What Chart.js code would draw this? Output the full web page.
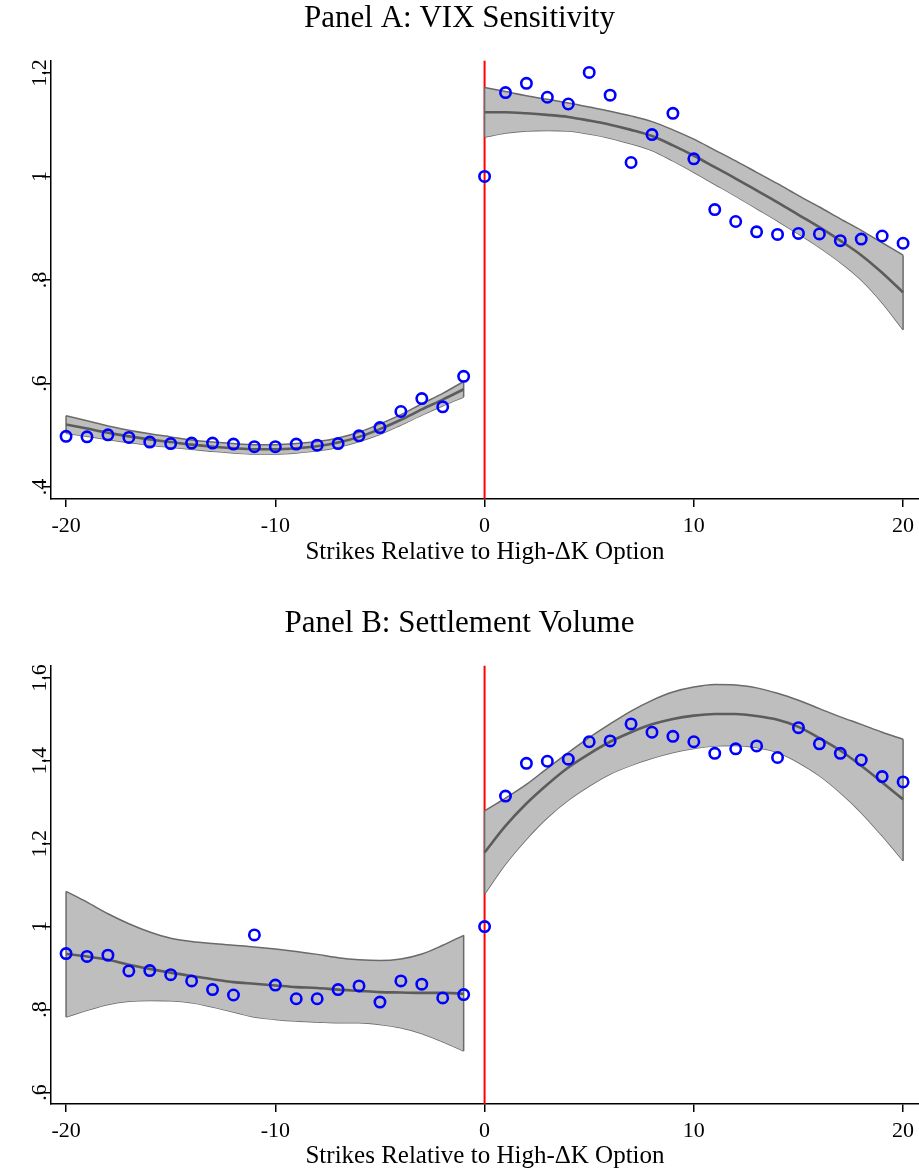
<!DOCTYPE html>
<html>
<head>
<meta charset="utf-8">
<script src="https://cdn.jsdelivr.net/npm/chart.js@4.4.0/dist/chart.umd.min.js"></script>
<style>
    html, body { margin: 0; padding: 0; background: #ffffff; }
    canvas { display: block; }
</style>
</head>
<body>
<canvas id="vixChart" width="919" height="585"></canvas>
<canvas id="volumeChart" width="919" height="586"></canvas>
<script>
// strikes relative to the high-dK option
const strikes = [-20, -19, -18, -17, -16, -15, -14, -13, -12, -11, -10, -9, -8, -7, -6, -5, -4, -3, -2, -1,
    0, 1, 2, 3, 4, 5, 6, 7, 8, 9, 10, 11, 12, 13, 14, 15, 16, 17, 18, 19, 20];
const fitLeftX = [-20, -19, -18, -17, -16, -15, -14, -13, -12, -11, -10, -9, -8, -7, -6, -5, -4, -3, -2, -1];
const fitRightX = [0, 1, 2, 3, 4, 5, 6, 7, 8, 9, 10, 11, 12, 13, 14, 15, 16, 17, 18, 19, 20];
const xTicks = [-20, -10, 0, 10, 20];

// Panel A: VIX sensitivity
const vixPoints = [0.498, 0.497, 0.501, 0.496, 0.487, 0.484, 0.485, 0.485, 0.483, 0.478, 0.478, 0.483, 0.481, 0.484, 0.499, 0.515, 0.546, 0.571, 0.555, 0.614,
    1.0, 1.162, 1.180, 1.153, 1.140, 1.201, 1.157, 1.027, 1.081, 1.122, 1.034, 0.936, 0.913, 0.893, 0.888, 0.890, 0.889, 0.876, 0.879, 0.885, 0.871];
const vixFitLeft = [0.521, 0.513, 0.505, 0.498, 0.492, 0.487, 0.482, 0.478, 0.475, 0.473, 0.473, 0.475, 0.479, 0.486, 0.497, 0.512, 0.530, 0.550, 0.569, 0.589];
const vixUpperLeft = [0.538, 0.528, 0.518, 0.510, 0.503, 0.497, 0.491, 0.487, 0.484, 0.482, 0.482, 0.484, 0.488, 0.495, 0.506, 0.522, 0.540, 0.561, 0.581, 0.604];
const vixLowerLeft = [0.504, 0.498, 0.492, 0.486, 0.481, 0.477, 0.473, 0.469, 0.466, 0.464, 0.464, 0.466, 0.470, 0.477, 0.488, 0.502, 0.520, 0.539, 0.557, 0.574];
const vixFitRight = [1.124, 1.124, 1.122, 1.119, 1.115, 1.108, 1.100, 1.090, 1.078, 1.060, 1.040, 1.018, 0.996, 0.973, 0.950, 0.926, 0.902, 0.876, 0.848, 0.814, 0.776];
const vixUpperRight = [1.172, 1.164, 1.156, 1.149, 1.142, 1.134, 1.126, 1.117, 1.106, 1.090, 1.072, 1.051, 1.030, 1.008, 0.986, 0.963, 0.941, 0.918, 0.896, 0.872, 0.848];
const vixLowerRight = [1.076, 1.084, 1.088, 1.089, 1.088, 1.082, 1.074, 1.063, 1.050, 1.030, 1.008, 0.985, 0.962, 0.938, 0.914, 0.889, 0.863, 0.834, 0.800, 0.756, 0.704];
const vixTicks = [0.4, 0.6, 0.8, 1, 1.2];
const vixTickLabels = [".4", ".6", ".8", "1", "1.2"];

// Panel B: settlement volume
const volumePoints = [0.935, 0.928, 0.931, 0.893, 0.894, 0.884, 0.869, 0.848, 0.835, 0.980, 0.859, 0.826, 0.826, 0.848, 0.857, 0.818, 0.869, 0.861, 0.828, 0.836,
    1.0, 1.315, 1.394, 1.399, 1.404, 1.446, 1.448, 1.489, 1.469, 1.459, 1.446, 1.418, 1.429, 1.436, 1.408, 1.480, 1.441, 1.418, 1.402, 1.362, 1.349];
const volFitLeft = [0.934, 0.928, 0.920, 0.908, 0.898, 0.889, 0.881, 0.873, 0.866, 0.862, 0.858, 0.854, 0.852, 0.848, 0.845, 0.842, 0.841, 0.840, 0.840, 0.838];
const volUpperLeft = [1.085, 1.059, 1.031, 1.007, 0.987, 0.972, 0.964, 0.959, 0.955, 0.951, 0.946, 0.940, 0.933, 0.925, 0.920, 0.918, 0.922, 0.934, 0.955, 0.979];
const volLowerLeft = [0.782, 0.798, 0.812, 0.820, 0.822, 0.821, 0.816, 0.806, 0.794, 0.782, 0.776, 0.772, 0.770, 0.768, 0.768, 0.764, 0.756, 0.742, 0.722, 0.700];
const volFitRight = [1.179, 1.243, 1.297, 1.343, 1.384, 1.417, 1.446, 1.469, 1.488, 1.501, 1.509, 1.513, 1.513, 1.508, 1.499, 1.482, 1.455, 1.425, 1.388, 1.348, 1.307];
const volUpperRight = [1.279, 1.310, 1.343, 1.382, 1.420, 1.456, 1.489, 1.520, 1.546, 1.566, 1.578, 1.584, 1.583, 1.576, 1.563, 1.546, 1.526, 1.506, 1.488, 1.469, 1.452];
const volLowerRight = [1.079, 1.151, 1.211, 1.263, 1.305, 1.339, 1.368, 1.389, 1.406, 1.420, 1.430, 1.436, 1.437, 1.432, 1.420, 1.396, 1.364, 1.323, 1.275, 1.219, 1.159];
const volTicks = [0.6, 0.8, 1, 1.2, 1.4, 1.6];
const volTickLabels = [".6", ".8", "1", "1.2", "1.4", "1.6"];

const FONT = "'Liberation Serif', 'Times New Roman', serif";
const BAND_FILL = "#bebebe";
const BAND_EDGE = "#6a6a6a";
const FIT_LINE = "#5c5c5c";

Chart.defaults.font.family = FONT;
Chart.defaults.color = "#000000";

document.addEventListener("DOMContentLoaded", function () {
    setVixChart();
    setVolumeChart();
});

// rotated y tick labels (Stata style, reading bottom to top)
const rotatedYLabels = {
    id: "rotatedYLabels",
    afterDraw(chart, args, opts) {
        const ctx = chart.ctx;
        const scale = chart.scales.y;

        ctx.save();
        ctx.font = `22px ${FONT}`;
        ctx.fillStyle = "#000000";
        ctx.textAlign = "center";
        ctx.textBaseline = "middle";
        opts.values.forEach((v, i) => {
            const y = scale.getPixelForValue(v);
            ctx.save();
            ctx.translate(opts.x, y);
            ctx.rotate(-Math.PI / 2);
            ctx.fillText(opts.labels[i], 0, 0);
            ctx.restore();
        });
        ctx.restore();
    },
};

function toPoints(xs, ys) {
    return xs.map((x, i) => ({ x: x, y: ys[i] }));
}

function bandDatasets(xs, upper, lower, fit) {
    const last = xs.length - 1;
    return [
        {
            type: "line",
            data: toPoints(xs, upper),
            borderColor: BAND_EDGE,
            borderWidth: 1.5,
            backgroundColor: BAND_FILL,
            fill: "+1",
            pointRadius: 0,
            cubicInterpolationMode: "monotone",
            order: 3,
        },
        {
            type: "line",
            data: toPoints(xs, lower),
            borderColor: BAND_EDGE,
            borderWidth: 1.5,
            fill: false,
            pointRadius: 0,
            cubicInterpolationMode: "monotone",
            order: 3,
        },
        {
            type: "line",
            data: [{ x: xs[0], y: lower[0] }, { x: xs[0], y: upper[0] }],
            borderColor: BAND_EDGE,
            borderWidth: 1.5,
            fill: false,
            pointRadius: 0,
            order: 2,
        },
        {
            type: "line",
            data: [{ x: xs[last], y: lower[last] }, { x: xs[last], y: upper[last] }],
            borderColor: BAND_EDGE,
            borderWidth: 1.5,
            fill: false,
            pointRadius: 0,
            order: 2,
        },
        {
            type: "line",
            data: toPoints(xs, fit),
            borderColor: FIT_LINE,
            borderWidth: 2.6,
            fill: false,
            pointRadius: 0,
            cubicInterpolationMode: "monotone",
            order: 1,
        },
    ];
}

function setPanel(canvasId, p) {
    const ctx = document.getElementById(canvasId).getContext("2d");

    const datasets = [
        {
            type: "line",
            data: [{ x: 0, y: p.yMin }, { x: 0, y: p.yMax }],
            borderColor: "#ff0000",
            borderWidth: 2,
            pointRadius: 0,
            fill: false,
            order: 5,
        },
        ...bandDatasets(fitLeftX, p.upperLeft, p.lowerLeft, p.fitLeft),
        ...bandDatasets(fitRightX, p.upperRight, p.lowerRight, p.fitRight),
        {
            type: "scatter",
            data: toPoints(strikes, p.points),
            borderColor: "#0000ff",
            backgroundColor: "rgba(0, 0, 0, 0)",
            borderWidth: 2.6,
            pointRadius: 5.2,
            pointStyle: "circle",
            order: 0,
        },
    ];

    new Chart(ctx, {
        type: "scatter",
        data: { datasets: datasets },
        plugins: [rotatedYLabels],
        options: {
            responsive: false,
            animation: false,
            layout: { autoPadding: false, padding: { left: 0, right: 0, top: p.padTop, bottom: 0 } },
            plugins: {
                legend: { display: false },
                tooltip: { enabled: false },
                title: {
                    display: true,
                    text: p.title,
                    font: { size: 31, weight: "normal", family: FONT },
                    color: "#000000",
                    padding: { top: 0, bottom: p.titleGap },
                },
                rotatedYLabels: { values: p.ticks, labels: p.tickLabels, x: 40 },
            },
            scales: {
                x: {
                    type: "linear",
                    min: -20.72,
                    max: 20.76,
                    afterBuildTicks: scale => {
                        scale.ticks = xTicks.map(v => ({ value: v }));
                    },
                    afterFit: scale => {
                        scale.height = p.xAxisHeight;
                        scale.paddingLeft = 0;
                        scale.paddingRight = 0;
                    },
                    grid: { drawOnChartArea: false, drawTicks: true, tickLength: 8, color: "#000000", lineWidth: 1.5 },
                    border: { display: true, color: "#000000", width: 1.5 },
                    ticks: {
                        font: { size: 22 },
                        color: "#000000",
                        padding: 6,
                        maxRotation: 0,
                        callback: v => String(v),
                    },
                    title: {
                        display: true,
                        text: "Strikes Relative to High-\u0394K Option",
                        font: { size: 25 },
                        color: "#000000",
                        padding: { top: 0, bottom: p.xTitleGap },
                    },
                },
                y: {
                    type: "linear",
                    min: p.yMin,
                    max: p.yMax,
                    afterBuildTicks: scale => {
                        scale.ticks = p.ticks.map(v => ({ value: v }));
                    },
                    afterFit: scale => {
                        scale.width = 51;
                    },
                    grid: { drawOnChartArea: false, drawTicks: true, tickLength: 9, color: "#000000", lineWidth: 1.5 },
                    border: { display: true, color: "#000000", width: 1.5 },
                    ticks: { display: false },
                },
            },
        },
    });
}

function setVixChart() {
    setPanel("vixChart", {
        title: "Panel A: VIX Sensitivity",
        points: vixPoints,
        fitLeft: vixFitLeft,
        upperLeft: vixUpperLeft,
        lowerLeft: vixLowerLeft,
        fitRight: vixFitRight,
        upperRight: vixUpperRight,
        lowerRight: vixLowerRight,
        ticks: vixTicks,
        tickLabels: vixTickLabels,
        yMin: 0.377,
        yMax: 1.224,
        padTop: 0,
        titleGap: 23.3,
        xAxisHeight: 86,
        xTitleGap: 18,
    });
}

function setVolumeChart() {
    setPanel("volumeChart", {
        title: "Panel B: Settlement Volume",
        points: volumePoints,
        fitLeft: volFitLeft,
        upperLeft: volUpperLeft,
        lowerLeft: volLowerLeft,
        fitRight: volFitRight,
        upperRight: volUpperRight,
        lowerRight: volLowerRight,
        ticks: volTicks,
        tickLabels: volTickLabels,
        yMin: 0.572,
        yMax: 1.63,
        padTop: 20,
        titleGap: 23.3,
        xAxisHeight: 67,
        xTitleGap: 0,
    });
}
</script>
</body>
</html>
